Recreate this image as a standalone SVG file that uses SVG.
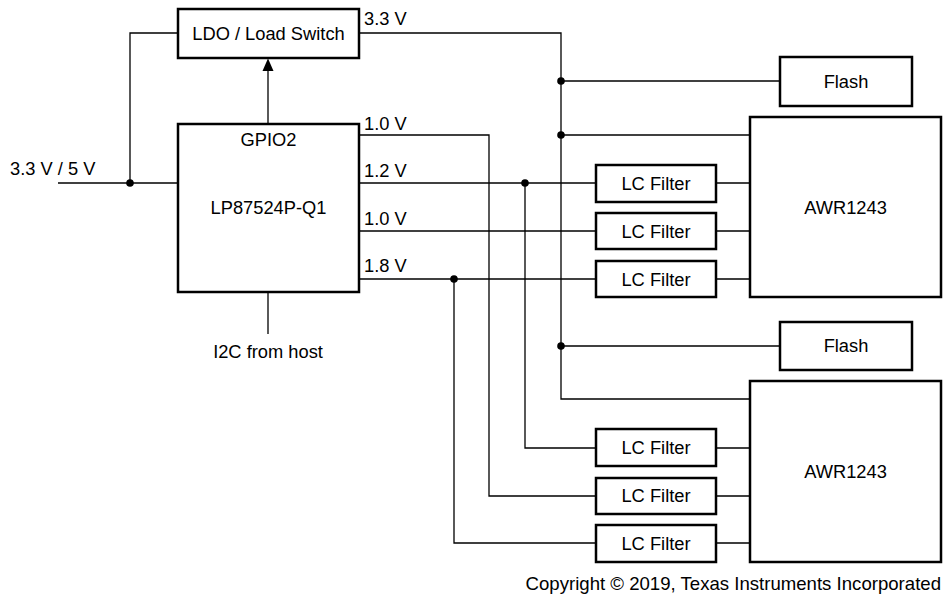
<svg xmlns="http://www.w3.org/2000/svg" width="948" height="595" viewBox="0 0 948 595">
<defs>
<style>
.box{fill:#fff;stroke:#000;stroke-width:2.5}
.w{fill:none;stroke:#000;stroke-width:1.3}
.t{font-family:"Liberation Sans",Arial,sans-serif;font-size:18.3px;fill:#000}
.c{text-anchor:middle}
.d{fill:#000}
</style>
</defs>
<rect width="948" height="595" fill="#fff"/>
<g id="connectors">
<path class="w" d="M58,183 H178"/>
<path class="w" d="M130,183 V33 H178"/>
<path class="w" d="M268,124 V71"/>
<path d="M262.5,71 L268,58.5 L273.5,71 Z" fill="#000"/>
<path class="w" d="M268,292 V334"/>
<path class="w" d="M359,33 H561 V399 H750"/>
<path class="w" d="M561,81 H780"/>
<path class="w" d="M561,135 H750"/>
<path class="w" d="M561,346 H780"/>
<path class="w" d="M359,135 H489 V496 H596"/>
<path class="w" d="M359,183 H596"/>
<path class="w" d="M525,183 V448 H596"/>
<path class="w" d="M359,231 H596"/>
<path class="w" d="M359,279 H596"/>
<path class="w" d="M454,279 V543 H596"/>
<path class="w" d="M716,183 H750 M716,231 H750 M716,279 H750 M716,448 H750 M716,496 H750 M716,543 H750"/>
<circle class="d" cx="130" cy="183" r="3.8"/>
<circle class="d" cx="561" cy="81" r="3.8"/>
<circle class="d" cx="561" cy="135" r="3.8"/>
<circle class="d" cx="561" cy="346" r="3.8"/>
<circle class="d" cx="525" cy="183" r="3.8"/>
<circle class="d" cx="454" cy="279" r="3.8"/>
<text class="t" x="10" y="175">3.3 V / 5 V</text>
<text class="t" x="364" y="25">3.3 V</text>
<text class="t" x="364" y="130">1.0 V</text>
<text class="t" x="364" y="177">1.2 V</text>
<text class="t" x="364" y="225">1.0 V</text>
<text class="t" x="364" y="272">1.8 V</text>
<text class="t c" x="268" y="358">I2C from host</text>
</g>
<g id="ldo"><rect class="box" x="178" y="9" width="181" height="49"/><text class="t c" x="268.5" y="40">LDO / Load Switch</text></g>
<g id="pmic"><rect class="box" x="178" y="124" width="181" height="168"/><text class="t c" x="268.5" y="146">GPIO2</text><text class="t c" x="268.5" y="214">LP87524P-Q1</text></g>
<g id="flash1"><rect class="box" x="780" y="57" width="132" height="49"/><text class="t c" x="846" y="88">Flash</text></g>
<g id="awr1"><rect class="box" x="750" y="117" width="191" height="180"/><text class="t c" x="845.5" y="214">AWR1243</text></g>
<g id="lc1"><rect class="box" x="596" y="165" width="120" height="37"/><text class="t c" x="656" y="190">LC Filter</text></g>
<g id="lc2"><rect class="box" x="596" y="213" width="120" height="36"/><text class="t c" x="656" y="238">LC Filter</text></g>
<g id="lc3"><rect class="box" x="596" y="261" width="120" height="36"/><text class="t c" x="656" y="286">LC Filter</text></g>
<g id="flash2"><rect class="box" x="780" y="322" width="132" height="48"/><text class="t c" x="846" y="352">Flash</text></g>
<g id="awr2"><rect class="box" x="750" y="381" width="191" height="181"/><text class="t c" x="845.5" y="478">AWR1243</text></g>
<g id="lc4"><rect class="box" x="596" y="429" width="120" height="37"/><text class="t c" x="656" y="454">LC Filter</text></g>
<g id="lc5"><rect class="box" x="596" y="478" width="120" height="36"/><text class="t c" x="656" y="502">LC Filter</text></g>
<g id="lc6"><rect class="box" x="596" y="525" width="120" height="37"/><text class="t c" x="656" y="550">LC Filter</text></g>
<text class="t" x="941" y="590" text-anchor="end" style="font-size:18.6px">Copyright © 2019, Texas Instruments Incorporated</text>
</svg>
